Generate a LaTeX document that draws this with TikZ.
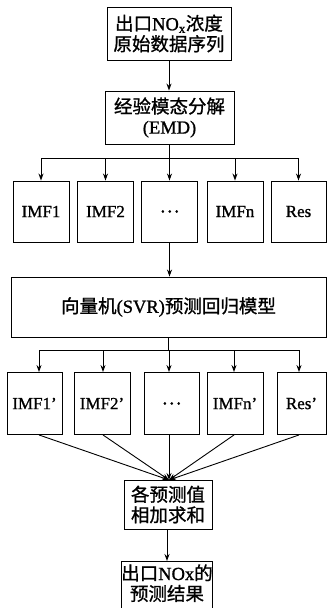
\documentclass[tikz,border=0pt]{standalone}
\usepackage{fontspec}
\setmainfont{Liberation Serif}
\newfontfamily\cjk{Noto Sans CJK SC}[FakeBold=1.0]
\newfontfamily\lsr{Liberation Serif}[FakeBold=1.0]
\usetikzlibrary{arrows.meta}
\begin{document}
\begin{tikzpicture}[x=1pt,y=-1pt,
  box/.style={draw,line width=0.9pt,inner sep=0pt,align=center,
    font=\fontsize{18.5}{20.5}\selectfont},
  lat/.style={font=\fontsize{17}{20}\selectfont\lsr},
  arr/.style={-{Stealth[length=7pt,width=5pt]},line width=0.9pt},
  ln/.style={line width=0.9pt}]
\useasboundingbox (0,0) rectangle (328,608);
% top
\node[box,minimum width=124pt,minimum height=53pt] (src) at (169,33.5)
  {\cjk 出口{\lsr NO\textsubscript{x}}浓度\\\cjk 原始数据序列};
\node[box,minimum width=129pt,minimum height=53pt] (emd) at (169.5,117.5)
  {\cjk 经验模态分解\\\lsr (EMD)};
\draw[arr] (src.south) -- (src.south |- emd.north);
% first row
\begin{scope}[every node/.append style={box,lat,minimum width=56pt,minimum height=61pt}]
\node (i1) at (41,211.5) {IMF1};
\node (i2) at (105.5,211.5) {IMF2};
\node[font=\fontsize{18.5}{20}\selectfont] (d1) at (169.5,211.5) {\cjk …};
\node (in) at (235,211.5) {IMFn};
\node[minimum width=55pt] (r1) at (298.5,211.5) {Res};
\end{scope}
\coordinate (bus1) at (169.5,158);
\draw[ln] (emd.south) -- (emd.south |- bus1);
\draw[ln] (bus1 -| i1) -- (bus1 -| r1);
\foreach \n in {i1,i2,d1,in,r1} \draw[arr] (bus1 -| \n) -- (\n.north);
% SVR
\node[box,minimum width=315pt,minimum height=60pt] (svr) at (168.5,307)
  {\cjk 向量机{\lsr (SVR)}预测回归模型};
\draw[arr] (d1.south) -- (d1.south |- svr.north);
% second row
\begin{scope}[every node/.append style={box,lat,minimum height=62pt}]
\node[minimum width=55pt] (j1) at (34.5,403.5) {IMF1’};
\node[minimum width=56pt] (j2) at (102,403.5) {IMF2’};
\node[minimum width=55pt,font=\fontsize{18.5}{20}\selectfont] (d2) at (171.5,403.5) {\cjk …};
\node[minimum width=56pt] (jn) at (235,403.5) {IMFn’};
\node[minimum width=49pt] (r2) at (301.5,403.5) {Res’};
\end{scope}
\coordinate (bus2) at (169,350);
\coordinate (t1) at (39,350);
\coordinate (t2) at (103,350);
\coordinate (t3) at (169,350);
\coordinate (t4) at (234,350);
\coordinate (t5) at (299,350);
\draw[ln] (svr.south) -- (svr.south |- bus2);
\draw[ln] (t1) -- (t5);
\draw[arr] (t1) -- (t1 |- j1.north);
\draw[arr] (t2) -- (t2 |- j2.north);
\draw[arr] (t3) -- (t3 |- d2.north);
\draw[arr] (t4) -- (t4 |- jn.north);
\draw[arr] (t5) -- (t5 |- r2.north);
% sum
\node[box,minimum width=88pt,minimum height=49pt] (sum) at (168,504.5)
  {\cjk 各预测值\\\cjk 相加求和};
\coordinate (cv) at (169,480);
\draw[arr] (t1 |- j1.south) -- (cv);
\draw[arr] (t2 |- j2.south) -- (cv);
\draw[arr] (t3 |- d2.south) -- (cv);
\draw[arr] (t4 |- jn.south) -- (cv);
\draw[arr] (t5 |- r2.south) -- (cv);
% result
\node[box,minimum width=88pt,minimum height=54pt,text depth=12pt,anchor=north] (res) at (167,561)
  {\cjk 出口{\lsr NOx}的\\\cjk 预测结果};
\draw[arr] (sum.south) -- (sum.south -| res.north) -- (res.north);
\end{tikzpicture}
\end{document}
